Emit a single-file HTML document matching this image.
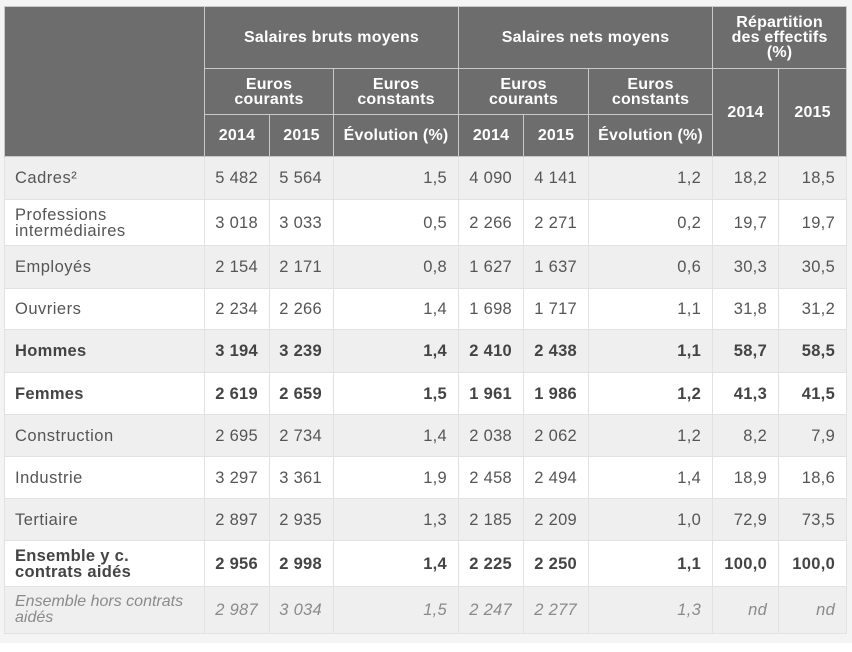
<!DOCTYPE html>
<html>
<head>
<meta charset="utf-8">
<style>
html,body{margin:0;padding:0;}
body{width:852px;height:652px;background:#fff;position:relative;overflow:hidden;font-family:"Liberation Sans",Arial,sans-serif;}
.bg{position:absolute;left:0;top:0;width:852px;height:643px;background:#f4f4f4;}
table{position:absolute;left:4px;top:6px;border-collapse:collapse;table-layout:fixed;width:842px;}
td,th{padding:0;overflow:hidden;}
th{background:#6d6d6d;color:#fff;font-weight:bold;font-size:16px;line-height:15px;text-align:center;border:1px solid #c9c9c9;letter-spacing:0.2px;}
td{border:1px solid #e2e2e2;font-size:16.5px;color:#555;text-align:right;padding-right:11px;letter-spacing:0.3px;line-height:16px;}
td.l{text-align:left;padding-left:10px;padding-right:0;letter-spacing:0.5px;}
tr.g td{background:#efefef;}
tr.w td{background:#fff;}
tr.b td{font-weight:bold;color:#444;letter-spacing:0.3px;}
tr.i td{font-style:italic;color:#8a8a8a;font-weight:normal;}
tr.i td.l{letter-spacing:0;font-size:16px;}
</style>
</head>
<body>
<div class="bg"></div>
<table>
<colgroup>
<col style="width:200px"><col style="width:65px"><col style="width:64px"><col style="width:125px"><col style="width:65px"><col style="width:65px"><col style="width:124px"><col style="width:66px"><col style="width:68px">
</colgroup>
<tr style="height:62px">
<th rowspan="3"></th>
<th colspan="3">Salaires bruts moyens</th>
<th colspan="3">Salaires nets moyens</th>
<th colspan="2">Répartition<br>des effectifs<br>(%)</th>
</tr>
<tr style="height:46px">
<th colspan="2">Euros<br>courants</th>
<th>Euros<br>constants</th>
<th colspan="2">Euros<br>courants</th>
<th>Euros<br>constants</th>
<th rowspan="2">2014</th>
<th rowspan="2">2015</th>
</tr>
<tr style="height:42px">
<th>2014</th><th>2015</th><th>Évolution (%)</th>
<th>2014</th><th>2015</th><th>Évolution (%)</th>
</tr>
<tr class="g" style="height:43px"><td class="l">Cadres²</td><td>5&nbsp;482</td><td>5&nbsp;564</td><td>1,5</td><td>4&nbsp;090</td><td>4&nbsp;141</td><td>1,2</td><td>18,2</td><td>18,5</td></tr>
<tr class="w" style="height:46px"><td class="l">Professions<br>intermédiaires</td><td>3&nbsp;018</td><td>3&nbsp;033</td><td>0,5</td><td>2&nbsp;266</td><td>2&nbsp;271</td><td>0,2</td><td>19,7</td><td>19,7</td></tr>
<tr class="g" style="height:43px"><td class="l">Employés</td><td>2&nbsp;154</td><td>2&nbsp;171</td><td>0,8</td><td>1&nbsp;627</td><td>1&nbsp;637</td><td>0,6</td><td>30,3</td><td>30,5</td></tr>
<tr class="w" style="height:41px"><td class="l">Ouvriers</td><td>2&nbsp;234</td><td>2&nbsp;266</td><td>1,4</td><td>1&nbsp;698</td><td>1&nbsp;717</td><td>1,1</td><td>31,8</td><td>31,2</td></tr>
<tr class="g b" style="height:43px"><td class="l">Hommes</td><td>3&nbsp;194</td><td>3&nbsp;239</td><td>1,4</td><td>2&nbsp;410</td><td>2&nbsp;438</td><td>1,1</td><td>58,7</td><td>58,5</td></tr>
<tr class="w b" style="height:42px"><td class="l">Femmes</td><td>2&nbsp;619</td><td>2&nbsp;659</td><td>1,5</td><td>1&nbsp;961</td><td>1&nbsp;986</td><td>1,2</td><td>41,3</td><td>41,5</td></tr>
<tr class="g" style="height:42px"><td class="l">Construction</td><td>2&nbsp;695</td><td>2&nbsp;734</td><td>1,4</td><td>2&nbsp;038</td><td>2&nbsp;062</td><td>1,2</td><td>8,2</td><td>7,9</td></tr>
<tr class="w" style="height:42px"><td class="l">Industrie</td><td>3&nbsp;297</td><td>3&nbsp;361</td><td>1,9</td><td>2&nbsp;458</td><td>2&nbsp;494</td><td>1,4</td><td>18,9</td><td>18,6</td></tr>
<tr class="g" style="height:42px"><td class="l">Tertiaire</td><td>2&nbsp;897</td><td>2&nbsp;935</td><td>1,3</td><td>2&nbsp;185</td><td>2&nbsp;209</td><td>1,0</td><td>72,9</td><td>73,5</td></tr>
<tr class="w b" style="height:46px"><td class="l">Ensemble y c.<br>contrats aidés</td><td>2&nbsp;956</td><td>2&nbsp;998</td><td>1,4</td><td>2&nbsp;225</td><td>2&nbsp;250</td><td>1,1</td><td>100,0</td><td>100,0</td></tr>
<tr class="g i" style="height:47px"><td class="l">Ensemble hors contrats<br>aidés</td><td>2&nbsp;987</td><td>3&nbsp;034</td><td>1,5</td><td>2&nbsp;247</td><td>2&nbsp;277</td><td>1,3</td><td>nd</td><td>nd</td></tr>
</table>
</body>
</html>
